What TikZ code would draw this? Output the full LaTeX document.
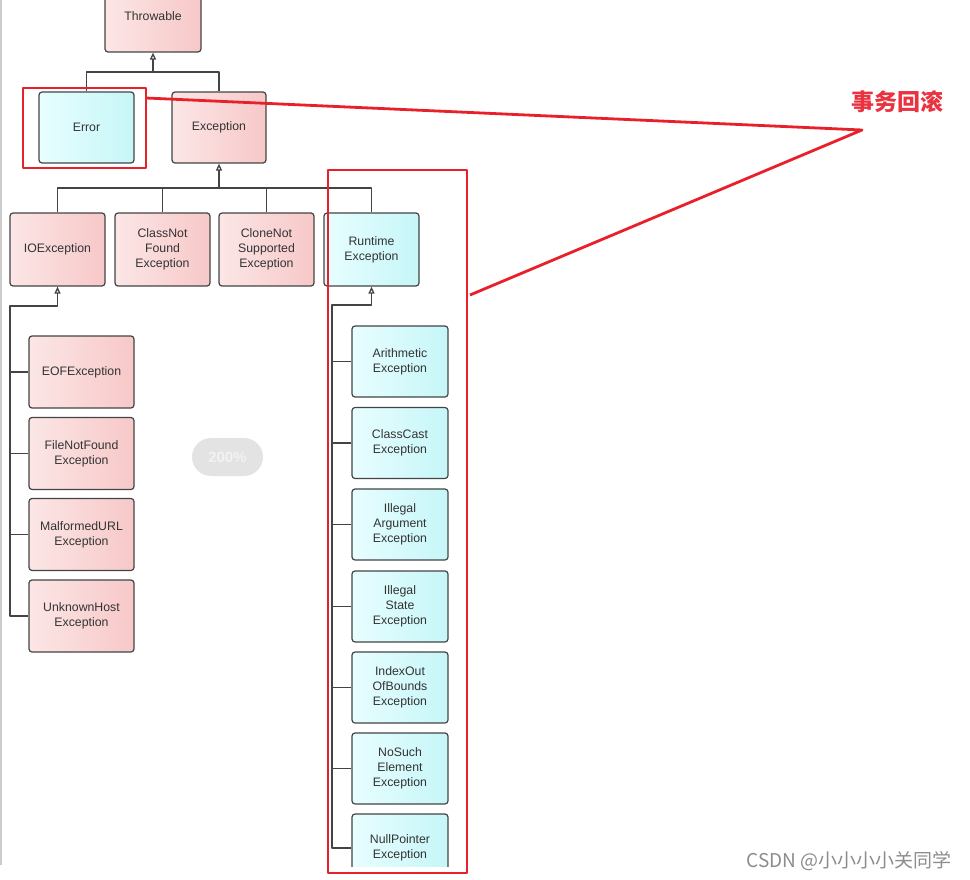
\documentclass[tikz,border=0pt]{standalone}
\usepackage{fontspec}
\setmainfont{Liberation Sans}
\newfontfamily\cjk{Noto Sans CJK SC}
\usetikzlibrary{arrows.meta}
\definecolor{pinkL}{HTML}{FCE6E6}
\definecolor{pinkR}{HTML}{F7C8C8}
\definecolor{cyanL}{HTML}{E8FEFF}
\definecolor{cyanR}{HTML}{C6F6F8}
\definecolor{edgegray}{HTML}{444444}
\definecolor{hlred}{HTML}{E8202A}
\definecolor{lblred}{HTML}{EA3340}
\begin{document}
\begin{tikzpicture}[x=1pt, y=-1pt, line join=round, font=\fontsize{12.3}{15}\selectfont, >={Triangle[open,length=7pt,width=6pt]}]
	\tikzset{cls/.style={draw=edgegray, line width=1.2pt, rounded corners=3pt, align=center, text=black!80, inner sep=0pt, minimum width=95pt, minimum height=72pt, left color=pinkL, right color=pinkR},
		rtcls/.style={cls, left color=cyanL, right color=cyanR},
		tree/.style={draw=edgegray, line width=1.3pt},
		hl/.style={draw=hlred, line width=2.8pt}}
	\useasboundingbox (0,0) rectangle (970,880);
	\draw[gray!40, line width=1.5pt] (1,0) -- (1,865);
	% top levels
	\node[cls, minimum width=96pt] (throw) at (153,16) {Throwable};
	\node[rtcls, minimum height=71pt] (error) at (86.5,127.5) {Error};
	\node[cls, minimum width=94pt, minimum height=71pt] (exc) at (219,127.5) {Exception};
	% checked and runtime
	\node[cls, minimum height=73pt] (io) at (57.5,249.5) {IOException};
	\node[cls, minimum height=73pt] (cnf) at (162.5,249.5) {ClassNot\\Found\\Exception};
	\node[cls, minimum height=73pt] (cns) at (266.5,249.5) {CloneNot\\Supported\\Exception};
	\node[rtcls, minimum height=73pt] (rte) at (371.5,249.5) {Runtime\\Exception};
	% IOException subclasses
	\node[cls, minimum width=105pt] (eof) at (81.5,372) {EOFException};
	\node[cls, minimum width=105pt] (fnf) at (81.5,453.5) {FileNotFound\\Exception};
	\node[cls, minimum width=105pt] (murl) at (81.5,534.5) {MalformedURL\\Exception};
	\node[cls, minimum width=105pt] (uhe) at (81.5,616) {UnknownHost\\Exception};
	% RuntimeException subclasses
	\node[rtcls, minimum width=96pt, minimum height=71pt] (arith) at (400,361.5) {Arithmetic\\Exception};
	\node[rtcls, minimum width=96pt, minimum height=71pt] (cce) at (400,443) {ClassCast\\Exception};
	\node[rtcls, minimum width=96pt, minimum height=71pt] (iae) at (400,524.5) {Illegal\\Argument\\Exception};
	\node[rtcls, minimum width=96pt, minimum height=71pt] (ise) at (400,606.5) {Illegal\\State\\Exception};
	\node[rtcls, minimum width=96pt, minimum height=71pt] (ioob) at (400,687.5) {IndexOut\\OfBounds\\Exception};
	\node[rtcls, minimum width=96pt, minimum height=71pt] (nse) at (400,768.5) {NoSuch\\Element\\Exception};
	\begin{scope}
		\clip (0,0) rectangle (970,866);
		\node[rtcls, minimum width=96pt, minimum height=68pt] (npe) at (400,848) {NullPointer\\Exception};
	\end{scope}
	% inheritance lines
	\coordinate (j1) at (153,72);
	\coordinate (j2) at (219,188);
	\coordinate (ioj) at (10,306);
	\coordinate (rtj) at (332,305);
	\draw[tree] (error.north) |- (j1);
	\draw[tree,->] (exc.north) |- (j1) -- (throw.south);
	\foreach \n in {io,cnf,cns}
		\draw[tree] (\n.north) |- (j2);
	\draw[tree,->] (rte.north) |- (j2) -- (exc.south);
	\draw[tree,->] (uhe.west) -| (ioj) -| (io.south);
	\foreach \n in {eof,fnf,murl}
		\draw[tree] (\n.west) -- (\n.west -| ioj);
	\draw[tree,->] (npe.west) -| (rtj) -| (rte.south);
	\foreach \n in {arith,cce,iae,ise,ioob,nse}
		\draw[tree] (\n.west) -- (\n.west -| rtj);
	% highlight
	\draw[hl] (23,88) rectangle (146,168);
	\draw[hl] (328,170) rectangle (467,873);
	\node[text=lblred, font=\cjk\bfseries\fontsize{23}{23}\selectfont] (rollback) at (897,102) {事务回滚};
	\coordinate (apex) at (862,130);
	\draw[hl] (146,98) -- (apex) -- (470,295);
	% overlays
	\node[fill=gray!22, rounded corners=19pt, minimum width=71pt, minimum height=38pt, text=gray!10, font=\bfseries\fontsize{15}{15}\selectfont] (zoomtag) at (227.5,457) {200\%};
	\node[text=black!45, font=\cjk\fontsize{19}{19}\selectfont] (wm) at (849,861) {CSDN @小小小小关同学};
\end{tikzpicture}
\end{document}
